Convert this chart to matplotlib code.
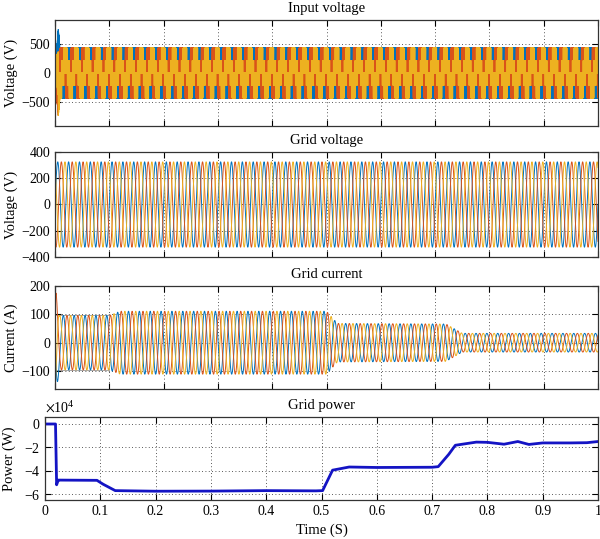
import numpy as np
import matplotlib
matplotlib.use("Agg")
import matplotlib.pyplot as plt
from matplotlib.ticker import ScalarFormatter

plt.rcParams['font.family'] = ['Liberation Serif', 'DejaVu Serif']
plt.rcParams['mathtext.fontset'] = 'stix'
plt.rcParams['font.size'] = 10

# phase colours (a, b, c)
colors = ['#0072BD', '#D95319', '#EDB120']
f_grid = 50.0

# input voltage: dc-link envelope (V), PWM settings
vdc_t = [0.0, 0.006, 0.009, 1.0]
vdc_v = [0.0, 1130.0, 645.0, 645.0]
mod_index = 0.9
f_carrier = 2000.0
vin_phase = -0.31

# grid voltage peak (V)
vgrid_peak = 325.0

# grid current amplitude envelope (A)
cur_t = [0.0, 0.002, 0.008, 0.1, 0.12, 0.5, 0.52, 0.72, 0.75, 1.0]
cur_amp = [175, 175, 96, 96, 111, 111, 68, 66, 33, 33]
cur_phase = 3.037
# grey limit line seen at start of current plot
lim_t = [0.0, 0.1]
lim_amp = [98, 98]

# grid power (W)
pow_t = [0.0, 0.019, 0.021, 0.024, 0.027, 0.094, 0.105, 0.127, 0.2, 0.3, 0.4,
         0.49, 0.502, 0.52, 0.55, 0.6, 0.7, 0.711, 0.73, 0.742, 0.78, 0.8,
         0.83, 0.855, 0.875, 0.9, 0.95, 0.98, 1.0]
pow_v = [0, 0, -5.2e4, -4.8e4, -4.8e4, -4.82e4, -5.15e4, -5.7e4, -5.75e4, -5.74e4, -5.7e4,
         -5.72e4, -5.7e4, -3.95e4, -3.68e4, -3.72e4, -3.7e4, -3.65e4, -2.6e4, -1.82e4, -1.55e4, -1.57e4,
         -1.73e4, -1.5e4, -1.75e4, -1.62e4, -1.62e4, -1.6e4, -1.5e4]

xtick_vals = [0, 0.1, 0.2, 0.3, 0.4, 0.5, 0.6, 0.7, 0.8, 0.9, 1.0]
xtick_labels = ['0', '0.1', '0.2', '0.3', '0.4', '0.5', '0.6', '0.7', '0.8', '0.9', '1']

# --- build waveforms
t = np.arange(0, 1.0, 1e-5)
w = 2 * np.pi * f_grid
shift = [0, -2 * np.pi / 3, 2 * np.pi / 3]

vdc = np.interp(t, vdc_t, vdc_v)
tri = 2 * np.abs(2 * ((t * f_carrier) % 1) - 1) - 1
sw = [(mod_index * np.sin(w * t + vin_phase + s) > tri).astype(float) for s in shift]
vin = [vdc * (2 * sw[k] - sw[(k + 1) % 3] - sw[(k + 2) % 3]) / 3 for k in range(3)]

tg = np.linspace(0, 1, 20001)
vg = [vgrid_peak * np.sin(w * tg + s) for s in shift]
amp = np.interp(tg, cur_t, cur_amp)
ig = [amp * np.sin(w * tg + cur_phase + s) for s in shift]

fig = plt.figure(figsize=(6.0, 5.39), dpi=100)
ax1 = fig.add_axes([0.0917, 0.7662, 0.905, 0.1967])
ax2 = fig.add_axes([0.0917, 0.5232, 0.905, 0.1948])
ax3 = fig.add_axes([0.0917, 0.2774, 0.905, 0.192])
ax4 = fig.add_axes([0.075, 0.0724, 0.9217, 0.154])


def style(ax):
    ax.set_xlim(0, 1)
    ax.set_xticks(xtick_vals)
    ax.tick_params(direction='in', top=True, right=True, length=4, width=0.8, labelsize=10)
    ax.grid(True, ls=(0, (1, 3)), color='#222222', lw=0.6)
    for sp in ax.spines.values():
        sp.set_linewidth(0.9)
        sp.set_color('#333333')


for k in range(3):
    ax1.plot(t, vin[k], color=colors[k], lw=0.8)
ax1.set_ylim(-915, 915)
ax1.set_yticks([-500, 0, 500])
ax1.set_title('Input voltage', fontsize=10.5)
ax1.set_ylabel('Voltage (V)', fontsize=10.5)

for k in range(3):
    ax2.plot(tg, vg[k], color=colors[k], lw=0.7)
ax2.set_ylim(-400, 400)
ax2.set_yticks([-400, -200, 0, 200, 400])
ax2.set_title('Grid voltage', fontsize=10.5)
ax2.set_ylabel('Voltage (V)', fontsize=10.5)

ax3.plot(lim_t, lim_amp, color='#999999', lw=0.6)
ax3.plot(lim_t, [-a for a in lim_amp], color='#999999', lw=0.6)
for k in range(3):
    ax3.plot(tg, ig[k], color=colors[k], lw=0.7)
ax3.set_ylim(-165, 200)
ax3.set_yticks([-100, 0, 100, 200])
ax3.set_title('Grid current', fontsize=10.5)
ax3.set_ylabel('Current (A)', fontsize=10.5)

ax4.plot(pow_t, pow_v, color='#1414c4', lw=2)
ax4.set_ylim(-6.5e4, 0.6e4)
ax4.set_yticks([-6e4, -4e4, -2e4, 0])
fmt = ScalarFormatter(useMathText=True)
fmt.set_powerlimits((0, 0))
ax4.yaxis.set_major_formatter(fmt)
ax4.set_title('Grid power', fontsize=10.5)
ax4.set_ylabel('Power (W)', fontsize=10.5)
ax4.set_xlabel('Time (S)', fontsize=10.5)

for ax in (ax1, ax2, ax3, ax4):
    style(ax)
for ax in (ax1, ax2, ax3):
    ax.tick_params(labelbottom=False)
    ax.yaxis.set_label_coords(-0.069, 0.5)
ax4.set_xticklabels(xtick_labels)
ax4.yaxis.set_label_coords(-0.052, 0.5)
ax4.yaxis.get_offset_text().set_fontsize(10)

fig.savefig('out.png', dpi=100)
